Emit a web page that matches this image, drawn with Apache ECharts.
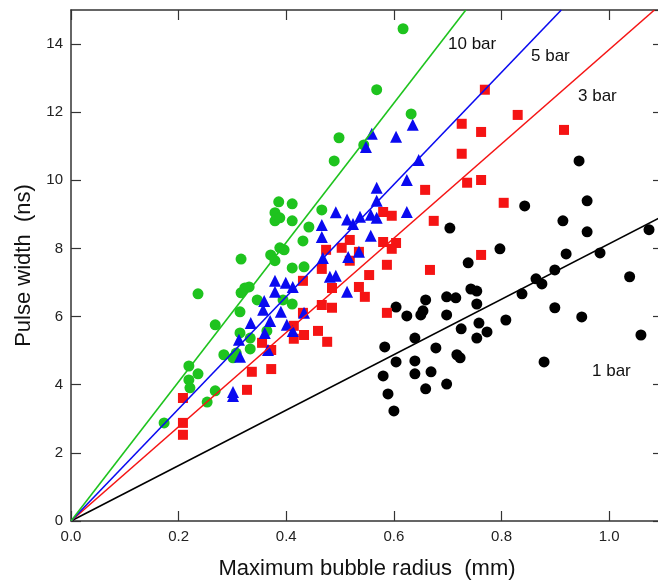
<!DOCTYPE html>
<html>
<head>
<meta charset="utf-8">
<script src="https://cdn.jsdelivr.net/npm/echarts@6/dist/echarts.min.js"></script>
<style>
  html, body { margin: 0; padding: 0; background: #fff; }
  #chart { width: 658px; height: 581px; }
</style>
</head>
<body>
<div id="chart"></div>
<script>
// Maximum bubble radius (mm) vs pulse width (ns), grouped by ambient pressure

// 10 bar
const bar10R = [0.173,0.219,0.219,0.221,0.236,0.236,0.253,0.268,0.268,0.284,0.301,0.307,0.314,0.314,0.316,0.323,0.331,0.333,0.333,0.346,0.364,0.394,0.411,0.316,0.371,0.379,0.388,0.396,0.431,0.442,0.411,0.411,0.433,0.466,0.386,0.411,0.379,0.379,0.388,0.489,0.498,0.544,0.568,0.617,0.632];
const bar10W = [2.88,4.55,4.14,3.91,4.32,6.67,3.49,5.76,3.82,4.88,4.79,4.93,6.14,5.52,6.70,6.84,6.87,5.05,5.37,6.49,5.58,6.49,6.37,7.69,7.81,7.64,8.02,7.96,8.22,8.63,8.81,7.43,7.46,9.13,9.37,9.31,9.05,8.81,8.90,10.57,11.25,11.04,12.66,14.45,11.95];

// 5 bar
const bar5R = [0.301,0.301,0.312,0.314,0.334,0.357,0.359,0.360,0.366,0.370,0.379,0.379,0.390,0.401,0.412,0.399,0.412,0.433,0.468,0.466,0.466,0.481,0.492,0.492,0.513,0.524,0.537,0.557,0.568,0.568,0.568,0.557,0.515,0.535,0.513,0.548,0.559,0.604,0.635,0.646,0.624,0.624];
const bar5W = [3.79,3.67,5.32,4.82,5.81,6.20,6.46,5.52,5.02,5.87,7.05,6.73,6.14,5.76,5.58,6.99,6.87,6.11,7.72,8.69,8.34,7.17,7.20,9.06,8.85,8.72,8.93,8.99,8.90,9.78,9.40,8.37,7.75,7.90,6.73,10.98,11.37,11.28,11.63,10.60,10.01,9.07];

// 3 bar
const bar3R = [0.208,0.208,0.208,0.327,0.336,0.372,0.355,0.372,0.414,0.414,0.431,0.433,0.459,0.466,0.476,0.431,0.485,0.485,0.535,0.546,0.587,0.580,0.596,0.518,0.503,0.474,0.535,0.580,0.604,0.596,0.518,0.587,0.466,0.554,0.769,0.830,0.726,0.762,0.916,0.726,0.736,0.762,0.658,0.804,0.674,0.667,0.762];
const bar3W = [3.61,2.88,2.53,3.85,4.38,4.46,5.23,5.02,5.73,5.35,6.11,5.46,5.58,6.34,5.26,7.05,6.26,6.84,6.87,6.58,6.11,9.07,8.96,8.25,8.02,7.96,7.90,8.19,8.16,7.99,7.64,7.52,7.40,7.22,12.66,11.92,11.66,11.42,11.48,10.78,9.93,10.01,9.72,9.34,8.81,7.37,7.81];

// 1 bar
const bar1R = [0.704,0.797,0.738,0.659,0.604,0.624,0.650,0.654,0.698,0.715,0.743,0.754,0.754,0.698,0.838,0.808,0.758,0.773,0.754,0.725,0.639,0.583,0.678,0.717,0.723,0.604,0.639,0.580,0.639,0.669,0.698,0.659,0.589,0.600,0.875,0.864,0.899,0.949,0.879,1.059,0.944,0.843,0.959,0.914,0.959,1.074,0.920,0.983,0.899,1.038];
const bar1W = [8.60,7.99,7.58,6.49,6.28,6.02,6.05,6.17,6.58,6.55,6.81,6.75,6.37,6.05,6.67,5.90,5.81,5.55,5.37,5.64,5.37,5.11,5.08,4.88,4.79,4.67,4.70,4.26,4.32,4.38,4.02,3.88,3.73,3.23,6.96,7.11,6.26,5.99,4.67,5.46,10.57,9.25,9.40,8.81,8.49,8.55,7.84,7.87,7.37,7.17];

// Linear fits through the origin: [radius, width] end points
const fit10 = [[0, 0], [0.7336, 15]];
const fit5 = [[0, 0], [0.911, 15]];
const fit3 = [[0, 0], [1.084, 15]];
const fit1 = [[0, 0], [1.1, 8.95]];

const xTicks = { min: 0, max: 1.1, step: 0.2 };
const yTicks = { min: 0, max: 15, step: 2 };

const pressureLabels = ['10 bar', '5 bar', '3 bar', '1 bar'];

const FONT = '"Liberation Sans", Arial, Helvetica, sans-serif';
const AXIS_COLOR = '#333';
const COLORS = { g: '#1ec31e', b: '#0a0af0', r: '#f51414', k: '#000000' };

function pairs(xs, ys) { return xs.map((x, i) => [x, ys[i]]); }

const chart = echarts.init(document.getElementById('chart'), null, { renderer: 'canvas' });

const axisCommon = {
  axisLine: { show: true, onZero: false, lineStyle: { color: AXIS_COLOR, width: 1.5 } },
  axisTick: { show: true, inside: true, length: 10, lineStyle: { color: AXIS_COLOR, width: 1.2 } },
  splitLine: { show: false },
  minorTick: { show: false }
};

function scatter(name, xs, ys, symbol, size, color) {
  return {
    name, type: 'scatter', symbol, symbolSize: size,
    itemStyle: { color, opacity: 1 },
    data: pairs(xs, ys), z: 3, silent: true
  };
}
function fitLine(data, color) {
  return {
    type: 'line', data, symbol: 'none', silent: true, z: 4,
    lineStyle: { color, width: 1.6 }
  };
}

chart.setOption({
  animation: false,
  backgroundColor: '#fff',
  grid: { left: 71, top: 10, width: 592, height: 511, outerBoundsMode: 'none', containLabel: false },
  xAxis: [
    Object.assign({}, axisCommon, {
      type: 'value', position: 'bottom',
      min: xTicks.min, max: xTicks.max, interval: xTicks.step,
      name: 'Maximum bubble radius  (mm)', nameLocation: 'middle', nameGap: 37,
      nameTextStyle: { fontFamily: FONT, fontSize: 22, color: '#111' },
      axisLabel: {
        fontFamily: FONT, fontSize: 15, color: '#222', margin: 8,
        formatter: v => v.toFixed(1), showMaxLabel: false
      }
    }),
    Object.assign({}, axisCommon, {
      type: 'value', position: 'top',
      min: xTicks.min, max: xTicks.max, interval: xTicks.step,
      axisLabel: { show: false }
    })
  ],
  yAxis: [
    Object.assign({}, axisCommon, {
      type: 'value', position: 'left',
      min: yTicks.min, max: yTicks.max, interval: yTicks.step,
      name: 'Pulse width  (ns)', nameLocation: 'middle', nameGap: 29,
      nameTextStyle: { fontFamily: FONT, fontSize: 22, color: '#111' },
      axisLabel: { fontFamily: FONT, fontSize: 15, color: '#222', margin: 8, showMaxLabel: false }
    }),
    Object.assign({}, axisCommon, {
      type: 'value', position: 'right',
      min: yTicks.min, max: yTicks.max, interval: yTicks.step,
      axisLabel: { show: false }
    })
  ],
  series: [
    fitLine(fit1, COLORS.k),
    fitLine(fit3, COLORS.r),
    fitLine(fit5, COLORS.b),
    fitLine(fit10, COLORS.g),
    scatter('1 bar', bar1R, bar1W, 'circle', 11, COLORS.k),
    scatter('10 bar', bar10R, bar10W, 'circle', 11, COLORS.g),
    scatter('3 bar', bar3R, bar3W, 'rect', 10, COLORS.r),
    scatter('5 bar', bar5R, bar5W, 'triangle', 12, COLORS.b)
  ],
  graphic: [
    { type: 'text', left: 448, top: 36, style: { text: pressureLabels[0], font: '17px ' + FONT, fill: '#111' } },
    { type: 'text', left: 531, top: 48, style: { text: pressureLabels[1], font: '17px ' + FONT, fill: '#111' } },
    { type: 'text', left: 578, top: 88, style: { text: pressureLabels[2], font: '17px ' + FONT, fill: '#111' } },
    { type: 'text', left: 592, top: 363, style: { text: pressureLabels[3], font: '17px ' + FONT, fill: '#111' } }
  ]
});
</script>
</body>
</html>
